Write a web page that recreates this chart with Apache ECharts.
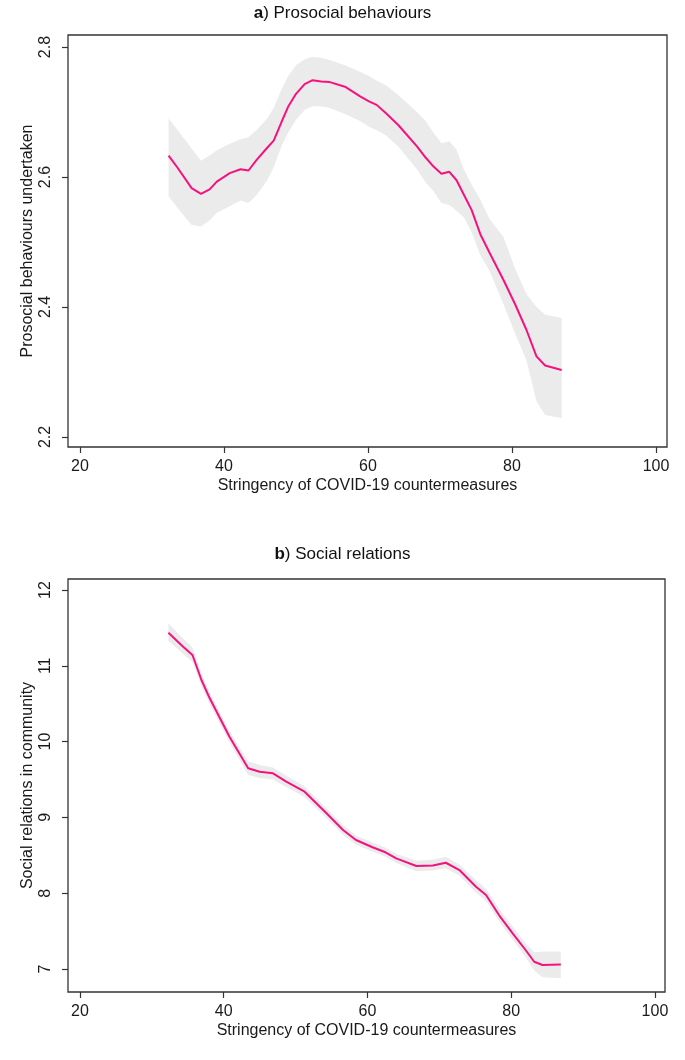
<!DOCTYPE html>
<html>
<head>
<meta charset="utf-8">
<script src="https://cdn.jsdelivr.net/npm/echarts@6/dist/echarts.min.js"></script>
<style>
html,body{margin:0;padding:0;background:#fff;}
#c{width:685px;height:1060px;}
</style>
</head>
<body>
<div id="c"></div>
<script>
// ---- Data ----
const xTicks = [20, 40, 60, 80, 100];
const yTicksA = [2.2, 2.4, 2.6, 2.8];
const yTicksB = [7, 8, 9, 10, 11, 12];

// Panel a: Prosocial behaviours
const xA  = [32.3, 33.5, 35.5, 36.8, 38.0, 39.0, 40.8, 42.3, 43.4, 44.5, 46.0, 46.9, 48.0, 48.9, 50.0, 51.2, 52.3, 53.5, 54.7, 56.8, 58.9, 60.2, 61.2, 62.5, 64.2, 66.8, 68.0, 69.1, 70.2, 71.3, 72.3, 73.3, 74.4, 75.6, 76.9, 78.8, 80.4, 82.0, 83.4, 84.6, 86.9];
const yA  = [2.633, 2.615, 2.583, 2.574, 2.581, 2.593, 2.606, 2.612, 2.610, 2.626, 2.645, 2.656, 2.685, 2.708, 2.728, 2.743, 2.749, 2.747, 2.746, 2.739, 2.724, 2.716, 2.711, 2.698, 2.680, 2.647, 2.630, 2.616, 2.605, 2.608, 2.595, 2.573, 2.549, 2.512, 2.483, 2.442, 2.405, 2.365, 2.324, 2.310, 2.303];
const loA = [2.570, 2.553, 2.526, 2.524, 2.533, 2.545, 2.555, 2.564, 2.560, 2.572, 2.595, 2.615, 2.648, 2.668, 2.688, 2.703, 2.709, 2.709, 2.706, 2.697, 2.686, 2.677, 2.672, 2.664, 2.647, 2.612, 2.592, 2.578, 2.560, 2.557, 2.548, 2.538, 2.515, 2.480, 2.455, 2.405, 2.360, 2.318, 2.255, 2.234, 2.229];
const hiA = [2.690, 2.673, 2.644, 2.625, 2.633, 2.641, 2.651, 2.658, 2.661, 2.672, 2.690, 2.706, 2.735, 2.755, 2.772, 2.781, 2.785, 2.783, 2.780, 2.772, 2.762, 2.755, 2.748, 2.741, 2.726, 2.700, 2.686, 2.668, 2.652, 2.655, 2.642, 2.612, 2.588, 2.565, 2.535, 2.508, 2.460, 2.420, 2.400, 2.388, 2.383];

// Panel b: Social relations
const xB  = [32.3, 34.35, 35.65, 36.9, 38.05, 40.8, 43.4, 45.0, 46.85, 48.7, 51.25, 54.3, 56.6, 58.4, 60.7, 62.5, 64.0, 66.8, 69.1, 70.9, 72.8, 75.1, 76.5, 78.3, 80.2, 82.0, 83.2, 84.35, 86.9];
const yB  = [11.437, 11.252, 11.142, 10.813, 10.571, 10.065, 9.648, 9.603, 9.582, 9.471, 9.339, 9.054, 8.834, 8.702, 8.606, 8.540, 8.459, 8.359, 8.365, 8.402, 8.306, 8.086, 7.976, 7.712, 7.471, 7.251, 7.096, 7.053, 7.061];
const loB = [11.33, 11.16, 11.05, 10.73, 10.49, 9.99, 9.56, 9.52, 9.50, 9.40, 9.27, 8.99, 8.77, 8.64, 8.55, 8.48, 8.40, 8.29, 8.30, 8.33, 8.23, 8.01, 7.90, 7.63, 7.39, 7.16, 6.98, 6.89, 6.88];
const hiB = [11.56, 11.36, 11.24, 10.90, 10.65, 10.14, 9.74, 9.69, 9.66, 9.55, 9.41, 9.12, 8.90, 8.76, 8.67, 8.60, 8.52, 8.43, 8.44, 8.48, 8.38, 8.17, 8.06, 7.80, 7.56, 7.34, 7.22, 7.23, 7.23];

const titleA = 'a';
const titleAText = ') Prosocial behaviours';
const titleB = 'b';
const titleBText = ') Social relations';
const xName = 'Stringency of COVID-19 countermeasures';
const yNameA = 'Prosocial behaviours undertaken';
const yNameB = 'Social relations in community';

// ---- Chart ----
const FONT = '"Liberation Sans", Arial, Helvetica, sans-serif';
const LINE = '#f5127f';
const BAND = '#ebebeb';
const AX = '#333';

const chart = echarts.init(document.getElementById('c'), null, {renderer: 'canvas'});

function zip(xs, ys) { return xs.map((x, i) => [x, ys[i]]); }

function bandSeries(idx, xs, lo, hi) {
  return {
    type: 'custom',
    xAxisIndex: idx, yAxisIndex: idx,
    data: [[xs[0], lo[0]]],
    silent: true,
    z: 1,
    renderItem: function (params, api) {
      const pts = [];
      for (let i = 0; i < xs.length; i++) pts.push(api.coord([xs[i], hi[i]]));
      for (let i = xs.length - 1; i >= 0; i--) pts.push(api.coord([xs[i], lo[i]]));
      return { type: 'polygon', shape: { points: pts }, style: { fill: BAND, stroke: null } };
    }
  };
}

function xAxisCfg(idx, min, max) {
  return {
    type: 'value', gridIndex: idx, min: min, max: max,
    name: xName, nameLocation: 'middle', nameGap: 31, nameMoveOverlap: false,
    nameTextStyle: { fontFamily: FONT, fontSize: 16, color: '#1a1a1a' },
    axisLine: { show: false },
    axisTick: { show: true, length: 6, customValues: xTicks, lineStyle: { color: AX, width: 1.2 } },
    axisLabel: { customValues: xTicks, margin: 12, fontFamily: FONT, fontSize: 16, color: '#1a1a1a' },
    splitLine: { show: false }
  };
}

function yAxisCfg(idx, min, max, ticks, name, gap, margin) {
  return {
    type: 'value', gridIndex: idx, min: min, max: max,
    name: name, nameLocation: 'middle', nameGap: gap, nameMoveOverlap: false,
    nameTextStyle: { fontFamily: FONT, fontSize: 16, color: '#1a1a1a' },
    axisLine: { show: false },
    axisTick: { show: true, length: 6, customValues: ticks, lineStyle: { color: AX, width: 1.2 } },
    axisLabel: { customValues: ticks, rotate: 90, margin: margin, fontFamily: FONT, fontSize: 16, color: '#1a1a1a',
                 formatter: v => (Math.round(v * 10) / 10).toString() },
    splitLine: { show: false }
  };
}

const option = {
  backgroundColor: '#fff',
  animation: false,
  title: [
    { text: '{b|' + titleA + '}' + titleAText, left: 'center', top: 0,
      textStyle: { fontFamily: FONT, fontSize: 17, fontWeight: 'normal', color: '#111',
                   rich: { b: { fontFamily: FONT, fontSize: 17, fontWeight: 'bold', color: '#111' } } } },
    { text: '{b|' + titleB + '}' + titleBText, left: 'center', top: 541,
      textStyle: { fontFamily: FONT, fontSize: 17, fontWeight: 'normal', color: '#111',
                   rich: { b: { fontFamily: FONT, fontSize: 17, fontWeight: 'bold', color: '#111' } } } }
  ],
  grid: [
    { left: 68, top: 35, width: 599, height: 412, show: true, borderColor: AX, borderWidth: 1.3, backgroundColor: 'transparent' },
    { left: 68, top: 579, width: 597, height: 413, show: true, borderColor: AX, borderWidth: 1.3, backgroundColor: 'transparent' }
  ],
  xAxis: [ xAxisCfg(0, 18.33, 101.53), xAxisCfg(1, 18.33, 101.4) ],
  yAxis: [
    yAxisCfg(0, 2.1846, 2.8185, yTicksA, yNameA, 32, 14),
    yAxisCfg(1, 6.697, 12.145, yTicksB, yNameB, 32, 14)
  ],
  series: [
    bandSeries(0, xA, loA, hiA),
    { type: 'line', xAxisIndex: 0, yAxisIndex: 0, data: zip(xA, yA), showSymbol: false, z: 3,
      lineStyle: { color: LINE, width: 2 }, silent: true },
    bandSeries(1, xB, loB, hiB),
    { type: 'line', xAxisIndex: 1, yAxisIndex: 1, data: zip(xB, yB), showSymbol: false, z: 3,
      lineStyle: { color: LINE, width: 2 }, silent: true }
  ]
};
chart.setOption(option);
</script>
</body>
</html>
